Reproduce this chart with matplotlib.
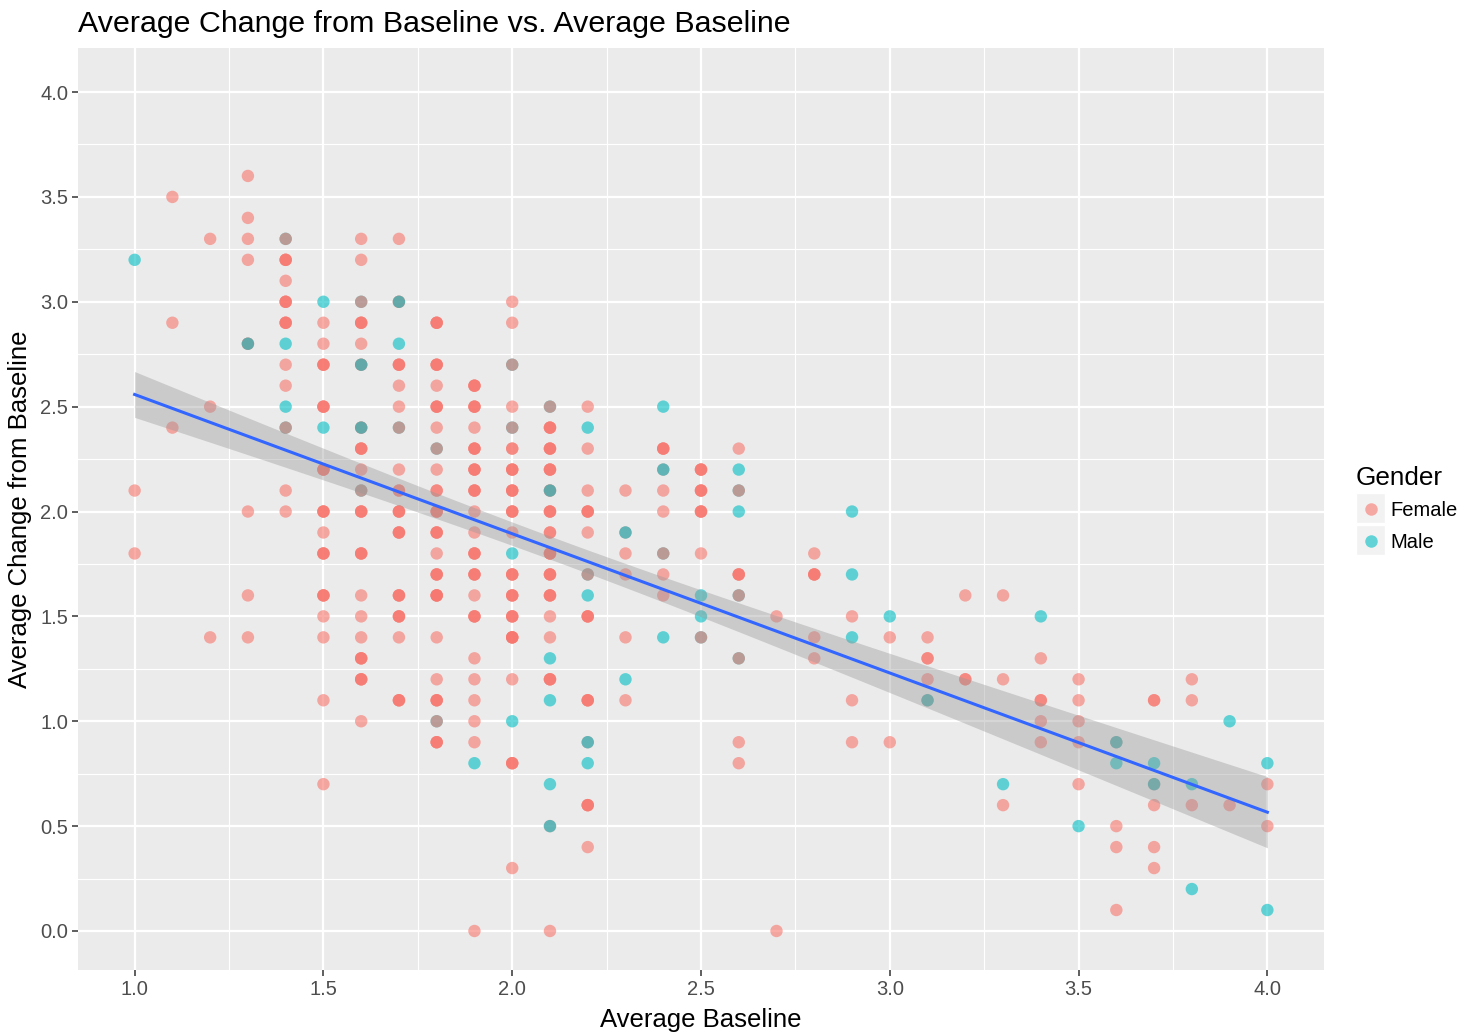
import numpy as np
import matplotlib
matplotlib.use("Agg")
import matplotlib.pyplot as plt
from matplotlib.patches import Rectangle
from matplotlib.lines import Line2D

plt.rcParams['font.family'] = ['Liberation Sans', 'DejaVu Sans']

# ---- data: one entry per participant, in file order ------------------------
baseline = [
    1.0, 1.0, 1.0,
    1.1, 1.1, 1.1,
    1.2, 1.2, 1.2,
    1.3, 1.3, 1.3, 1.3, 1.3, 1.3, 1.3, 1.3, 1.3, 1.3,
    1.4, 1.4, 1.4, 1.4, 1.4, 1.4, 1.4, 1.4, 1.4, 1.4,
    1.4, 1.4, 1.4, 1.4, 1.4, 1.4, 1.4, 1.4, 1.4, 1.4,
    1.5, 1.5, 1.5, 1.5, 1.5, 1.5, 1.5, 1.5, 1.5, 1.5,
    1.5, 1.5, 1.5, 1.5, 1.5, 1.5, 1.5, 1.5, 1.5, 1.5,
    1.5, 1.5, 1.5, 1.5, 1.5, 1.5, 1.5,
    1.6, 1.6, 1.6, 1.6, 1.6, 1.6, 1.6, 1.6, 1.6, 1.6,
    1.6, 1.6, 1.6, 1.6, 1.6, 1.6, 1.6, 1.6, 1.6, 1.6,
    1.6, 1.6, 1.6, 1.6, 1.6, 1.6, 1.6, 1.6, 1.6, 1.6,
    1.6, 1.6, 1.6, 1.6, 1.6, 1.6,
    1.7, 1.7, 1.7, 1.7, 1.7, 1.7, 1.7, 1.7, 1.7, 1.7,
    1.7, 1.7, 1.7, 1.7, 1.7, 1.7, 1.7, 1.7, 1.7, 1.7,
    1.7, 1.7, 1.7, 1.7, 1.7, 1.7, 1.7, 1.7, 1.7, 1.7,
    1.7,
    1.8, 1.8, 1.8, 1.8, 1.8, 1.8, 1.8, 1.8, 1.8, 1.8,
    1.8, 1.8, 1.8, 1.8, 1.8, 1.8, 1.8, 1.8, 1.8, 1.8,
    1.8, 1.8, 1.8, 1.8, 1.8, 1.8, 1.8, 1.8, 1.8, 1.8,
    1.8, 1.8, 1.8, 1.8, 1.8, 1.8, 1.8, 1.8, 1.8, 1.8,
    1.9, 1.9, 1.9, 1.9, 1.9, 1.9, 1.9, 1.9, 1.9, 1.9,
    1.9, 1.9, 1.9, 1.9, 1.9, 1.9, 1.9, 1.9, 1.9, 1.9,
    1.9, 1.9, 1.9, 1.9, 1.9, 1.9, 1.9, 1.9, 1.9, 1.9,
    1.9, 1.9, 1.9, 1.9, 1.9,
    2.0, 2.0, 2.0, 2.0, 2.0, 2.0, 2.0, 2.0, 2.0, 2.0,
    2.0, 2.0, 2.0, 2.0, 2.0, 2.0, 2.0, 2.0, 2.0, 2.0,
    2.0, 2.0, 2.0, 2.0, 2.0, 2.0, 2.0, 2.0, 2.0, 2.0,
    2.0, 2.0, 2.0, 2.0, 2.0, 2.0, 2.0, 2.0, 2.0,
    2.1, 2.1, 2.1, 2.1, 2.1, 2.1, 2.1, 2.1, 2.1, 2.1,
    2.1, 2.1, 2.1, 2.1, 2.1, 2.1, 2.1, 2.1, 2.1, 2.1,
    2.1, 2.1, 2.1, 2.1, 2.1, 2.1, 2.1, 2.1, 2.1, 2.1,
    2.1, 2.1, 2.1, 2.1, 2.1, 2.1, 2.1, 2.1, 2.1,
    2.2, 2.2, 2.2, 2.2, 2.2, 2.2, 2.2, 2.2, 2.2, 2.2,
    2.2, 2.2, 2.2, 2.2, 2.2, 2.2, 2.2, 2.2, 2.2, 2.2,
    2.2, 2.2, 2.2, 2.2,
    2.3, 2.3, 2.3, 2.3, 2.3, 2.3, 2.3, 2.3,
    2.4, 2.4, 2.4, 2.4, 2.4, 2.4, 2.4, 2.4, 2.4, 2.4, 2.4, 2.4, 2.4,
    2.5, 2.5, 2.5, 2.5, 2.5, 2.5, 2.5, 2.5, 2.5, 2.5, 2.5, 2.5, 2.5, 2.5,
    2.6, 2.6, 2.6, 2.6, 2.6, 2.6, 2.6, 2.6, 2.6, 2.6, 2.6, 2.6, 2.6, 2.6,
    2.7, 2.7,
    2.8, 2.8, 2.8, 2.8, 2.8, 2.8,
    2.9, 2.9, 2.9, 2.9, 2.9, 2.9,
    3.0, 3.0, 3.0,
    3.1, 3.1, 3.1, 3.1, 3.1, 3.1,
    3.2, 3.2, 3.2,
    3.3, 3.3, 3.3, 3.3,
    3.4, 3.4, 3.4, 3.4, 3.4, 3.4,
    3.5, 3.5, 3.5, 3.5, 3.5, 3.5,
    3.6, 3.6, 3.6, 3.6, 3.6, 3.6,
    3.7, 3.7, 3.7, 3.7, 3.7, 3.7, 3.7, 3.7,
    3.8, 3.8, 3.8, 3.8, 3.8,
    3.9, 3.9,
    4.0, 4.0, 4.0, 4.0,
]
change = [
    3.2, 2.1, 1.8,
    3.5, 2.9, 2.4,
    3.3, 2.5, 1.4,
    3.6, 3.4, 3.3, 3.2, 2.8, 2.8, 2.8, 2.0, 1.6, 1.4,
    3.3, 3.3, 3.2, 3.2, 3.2, 3.1, 3.0, 3.0, 3.0, 2.9,
    2.9, 2.9, 2.8, 2.7, 2.6, 2.5, 2.4, 2.4, 2.1, 2.0,
    3.0, 2.9, 2.8, 2.7, 2.7, 2.7, 2.5, 2.5, 2.5, 2.4,
    2.2, 2.2, 2.2, 2.0, 2.0, 2.0, 1.9, 1.8, 1.8, 1.8,
    1.6, 1.6, 1.6, 1.5, 1.4, 1.1, 0.7,
    3.3, 3.2, 3.0, 3.0, 2.9, 2.9, 2.9, 2.8, 2.7, 2.7,
    2.7, 2.4, 2.4, 2.4, 2.3, 2.3, 2.3, 2.2, 2.1, 2.1,
    2.0, 2.0, 2.0, 1.8, 1.8, 1.8, 1.6, 1.5, 1.4, 1.3,
    1.3, 1.3, 1.2, 1.2, 1.2, 1.0,
    3.3, 3.0, 3.0, 3.0, 2.8, 2.7, 2.7, 2.7, 2.6, 2.5,
    2.4, 2.4, 2.2, 2.1, 2.1, 2.0, 2.0, 2.0, 1.9, 1.9,
    1.9, 1.6, 1.6, 1.6, 1.5, 1.5, 1.5, 1.4, 1.1, 1.1,
    1.1,
    2.9, 2.9, 2.9, 2.7, 2.7, 2.7, 2.6, 2.5, 2.5, 2.5,
    2.4, 2.3, 2.3, 2.2, 2.1, 2.1, 2.0, 2.0, 2.0, 1.9,
    1.9, 1.9, 1.8, 1.7, 1.7, 1.7, 1.6, 1.6, 1.6, 1.6,
    1.4, 1.2, 1.1, 1.1, 1.1, 1.0, 1.0, 0.9, 0.9, 0.9,
    2.6, 2.6, 2.6, 2.5, 2.5, 2.5, 2.4, 2.3, 2.3, 2.3,
    2.2, 2.2, 2.2, 2.1, 2.1, 2.1, 2.0, 1.9, 1.8, 1.8,
    1.8, 1.7, 1.7, 1.7, 1.6, 1.5, 1.5, 1.5, 1.3, 1.2,
    1.1, 1.0, 0.9, 0.8, 0.0,
    3.0, 2.9, 2.7, 2.7, 2.5, 2.4, 2.4, 2.3, 2.3, 2.2,
    2.2, 2.2, 2.1, 2.1, 2.1, 2.0, 2.0, 2.0, 1.9, 1.8,
    1.7, 1.7, 1.7, 1.6, 1.6, 1.6, 1.5, 1.5, 1.5, 1.4,
    1.4, 1.4, 1.4, 1.2, 1.0, 0.8, 0.8, 0.8, 0.3,
    2.5, 2.5, 2.4, 2.4, 2.4, 2.3, 2.3, 2.3, 2.2, 2.2,
    2.2, 2.1, 2.1, 2.1, 2.0, 2.0, 2.0, 1.9, 1.9, 1.8,
    1.8, 1.8, 1.7, 1.7, 1.7, 1.6, 1.6, 1.6, 1.5, 1.4,
    1.3, 1.2, 1.2, 1.2, 1.1, 0.7, 0.5, 0.5, 0.0,
    2.5, 2.4, 2.3, 2.1, 2.0, 2.0, 2.0, 1.9, 1.7, 1.7,
    1.6, 1.5, 1.5, 1.5, 1.1, 1.1, 1.1, 0.9, 0.9, 0.8,
    0.6, 0.6, 0.6, 0.4,
    2.1, 1.9, 1.9, 1.8, 1.7, 1.4, 1.2, 1.1,
    2.5, 2.3, 2.3, 2.3, 2.2, 2.2, 2.1, 2.0, 1.8, 1.8, 1.7, 1.6, 1.4,
    2.2, 2.2, 2.2, 2.1, 2.1, 2.1, 2.0, 2.0, 2.0, 1.8, 1.6, 1.5, 1.4, 1.4,
    2.3, 2.2, 2.1, 2.1, 2.0, 1.7, 1.7, 1.7, 1.6, 1.6, 1.3, 1.3, 0.9, 0.8,
    1.5, 0.0,
    1.8, 1.7, 1.7, 1.7, 1.4, 1.3,
    2.0, 1.7, 1.5, 1.4, 1.1, 0.9,
    1.5, 1.4, 0.9,
    1.4, 1.3, 1.3, 1.2, 1.1, 1.1,
    1.6, 1.2, 1.2,
    1.6, 1.2, 0.7, 0.6,
    1.5, 1.3, 1.1, 1.1, 1.0, 0.9,
    1.2, 1.1, 1.0, 0.9, 0.7, 0.5,
    0.9, 0.9, 0.8, 0.5, 0.4, 0.1,
    1.1, 1.1, 0.8, 0.7, 0.7, 0.6, 0.4, 0.3,
    1.2, 1.1, 0.7, 0.6, 0.2,
    1.0, 0.6,
    0.8, 0.7, 0.5, 0.1,
]
gender = """
    M F F
    F F F
    F F F
    F F F F F F M F F F
    M F F F F F F F F F
    F F M F F M M F F F
    M F F F F F F F F M
    F F F F F F F F F F
    F F F F F F F
    F F M F F F F F F F
    M F F M F F F F M F
    F F F F F F F F F F
    F F F F F F
    F F F M M F F F F F
    M F F F F F F F F F
    F F F F F F F F F F
    F
    F F F F F F F F F F
    F M F F F F F F F F
    F F F F F F F F F F
    F F F F F M F F F F
    F F F F F F F F F F
    F F F F F F F F F F
    F F F F F F F F F F
    F F F M F
    F F M F F M F F F F
    F F F F F F F F F M
    F F F F F F F F F F
    F F F F M F F F F
    M F F F F F F F F F
    F F F M F F F F F F
    F F F F F F F F F F
    M F F F M M F M F
    F M F F F F F F M F
    M F F F F F F F M M
    F F F F
    F F M F F F M F
    M F F F F M F F M F F F M
    F F F F F F F F F F M M M F
    F M M F M F F F M F M F F F
    F F
    F F F F F F
    M M F M F F
    M F F
    F F F F F M
    F F F
    F F M F
    M F F F F F
    F F F F F M
    F M M F F F
    F F M F M F F F
    F F M F M
    M F
    M F F M
""".split()

gender_labels = ["Female", "Male"]
gender_colors = {"F": "#F8766D", "M": "#00BFC4"}

x_ticks = [1.0, 1.5, 2.0, 2.5, 3.0, 3.5, 4.0]
y_ticks = [0.0, 0.5, 1.0, 1.5, 2.0, 2.5, 3.0, 3.5, 4.0]

assert len(baseline) == len(change) == len(gender)

# ---- linear fit with 95% confidence band ----------------------------------
bx = np.array(baseline)
cy = np.array(change)
n = len(bx)
slope, intercept = np.polyfit(bx, cy, 1)
resid = cy - (intercept + slope * bx)
s = np.sqrt(np.sum(resid ** 2) / (n - 2))
xbar = bx.mean()
sxx = np.sum((bx - xbar) ** 2)
t_crit = 1.966  # two-sided 95%, large n
grid = np.linspace(bx.min(), bx.max(), 80)
fit = intercept + slope * grid
se = s * np.sqrt(1.0 / n + (grid - xbar) ** 2 / sxx)

# ---- figure ----------------------------------------------------------------
W, H = 1474, 1036
fig = plt.figure(figsize=(W / 100, H / 100), dpi=100)
fig.patch.set_facecolor("white")
ax = fig.add_axes([78 / W, 1 - 970 / H, (1324 - 78) / W, (970 - 48) / H])
ax.set_facecolor("#EBEBEB")
for sp in ax.spines.values():
    sp.set_visible(False)

ax.set_xlim(0.85, 4.15)
ax.set_ylim(-0.186, 4.21)
ax.set_xticks(x_ticks)
ax.set_yticks(y_ticks)
ax.set_xticklabels([f"{v:.1f}" for v in x_ticks])
ax.set_yticklabels([f"{v:.1f}" for v in y_ticks])
ax.set_xticks([1.25, 1.75, 2.25, 2.75, 3.25, 3.75], minor=True)
ax.set_yticks([0.25, 0.75, 1.25, 1.75, 2.25, 2.75, 3.25, 3.75], minor=True)
ax.grid(which="major", color="white", linewidth=1.6)
ax.grid(which="minor", color="white", linewidth=0.8)
ax.set_axisbelow(True)
ax.tick_params(which="major", length=4, width=1.1, color="#333333",
               labelsize=14.5, labelcolor="#4D4D4D", pad=3)
ax.tick_params(which="minor", length=0)

ax.scatter(baseline, change, s=80, c=[gender_colors[g] for g in gender],
           alpha=0.6, edgecolors="none", zorder=3)

ax.fill_between(grid, fit - t_crit * se, fit + t_crit * se,
                color="#999999", alpha=0.4, linewidth=0, zorder=4)
ax.plot(grid, fit, color="#3366FF", linewidth=2.2, zorder=5)

ax.set_xlabel("Average Baseline", fontsize=18.5, color="black", labelpad=7)
ax.set_ylabel("Average Change from Baseline", fontsize=18.5, color="black",
              labelpad=6)
fig.text(78 / W, 1 - 24 / H, "Average Change from Baseline vs. Average Baseline",
         fontsize=21.9, ha="left", va="center", color="black")

# ---- legend ----------------------------------------------------------------
fig.text(1356 / W, 1 - 478 / H, "Gender", fontsize=18.8, ha="left", va="center")
for i, (lab, key) in enumerate(zip(gender_labels, ["F", "M"])):
    top = 493 + i * 32
    fig.add_artist(Rectangle((1356 / W, 1 - (top + 30) / H), 29 / W, 30 / H,
                             transform=fig.transFigure, facecolor="#F2F2F2",
                             edgecolor="white", linewidth=1))
    fig.add_artist(Line2D([1370.5 / W], [1 - (top + 16) / H],
                          transform=fig.transFigure, marker="o",
                          markersize=9, color=gender_colors[key], alpha=0.6,
                          markeredgewidth=0, linestyle="none"))
    fig.text(1390 / W, 1 - (top + 17) / H, lab, fontsize=14.5, ha="left",
             va="center", color="black")

fig.savefig("out.png", dpi=100)
